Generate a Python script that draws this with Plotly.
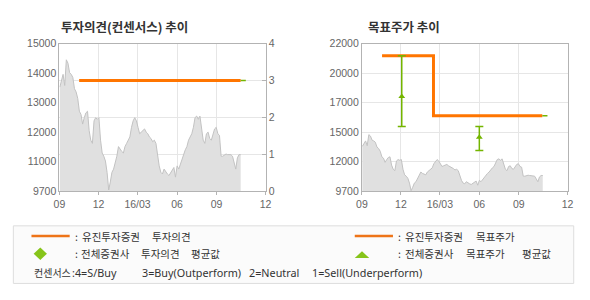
import plotly.graph_objects as go
import pandas as pd

W, H = 590, 300

# ---- data ----
price = [13441, 13700, 13900, 13500, 14423, 14300, 13961, 13900, 13788, 13383,
         13268, 13037, 12575, 12460, 12113, 12344, 12517, 12575, 11882, 11536,
         11420, 12229, 12344, 12286, 12344, 11536, 11074, 10959, 10785, 10381,
         9746, 10035, 10381, 10497, 10728, 10959, 11305, 11189, 11132, 11074,
         11305, 11420, 11536, 11651, 11998, 12229, 12344, 12229, 11998, 11767,
         11825, 11882, 11940, 11825, 11767, 11651, 11594, 11478, 11536, 11420,
         10959, 10612, 10381, 10323, 10497, 10381, 10323, 10266, 10381, 10439,
         10554, 10208, 10612, 10497, 10670, 10843, 11074, 11189, 11305, 11536,
         11651, 11767, 11998, 12344, 12402, 12286, 12402, 11998, 11536, 11420,
         11767, 11825, 11594, 11536, 11767, 11940, 11998, 11767, 11709, 10959,
         10959, 11016, 11039, 11016, 11016, 11016, 10959, 10728, 10497, 10900,
         11016, 11016]
price_dates = pd.date_range("2015-09-02", "2016-10-27", periods=len(price))

opinion_dates = ["2015-10-17", "2016-10-27"]
opinion_vals = [3, 3]
opinion_avg_dates = ["2016-10-27", "2016-11-08"]
opinion_avg_vals = [3, 3]

target_dates = ["2015-10-18", "2016-02-15", "2016-10-26"]
target_vals = [21000, 16000, 16000]
target_avg_dates = ["2016-10-26", "2016-11-07"]
target_avg_vals = [16000, 16000]

cons_dates = ["2015-12-03", "2016-06-01"]
cons_mean = [17600, 14200]
cons_high = [21000, 15100]
cons_low = [15100, 13100]

x_tickvals = ["2015-09-01", "2015-12-01", "2016-03-01", "2016-06-01", "2016-09-01", "2016-12-24"]
x_ticktext = ["09", "12", "16/03", "06", "09", "12"]
x_range = ["2015-09-01", "2016-12-24 02:00"]

y1_tickvals = [9700, 10760, 11820, 12880, 13940, 15000]
y1_ticktext = ["9700", "11000", "12000", "13000", "14000", "15000"]
y2_tickvals = [0, 1, 2, 3, 4]
y3_tickvals = [9700, 12160, 14620, 17080, 19540, 22000]
y3_ticktext = ["9700", "12000", "15000", "17000", "20000", "22000"]

ORANGE = "#ff7500"
LEG_ORANGE = "#ee7418"
GREEN = "#74b500"
LEG_GREEN = "#86c41a"
AREA_FILL = "#e0e0e0"
AREA_LINE = "#c2c2c2"
FRAME = "#b3b3b3"
GRID = "#e6e6e6"
TICKFONT = dict(family="Liberation Sans, Arial, sans-serif", size=10.5, color="#666666")
KFONT = "Noto Sans CJK KR, sans-serif"


def px(x):
    return x / W


def py(y):
    return 1 - y / H


fig = go.Figure()

# left chart
fig.add_trace(go.Scatter(x=price_dates, y=price, mode="lines", fill="tozeroy",
                         fillcolor=AREA_FILL, line=dict(color=AREA_LINE, width=1),
                         xaxis="x", yaxis="y", hoverinfo="skip"))
fig.add_trace(go.Scatter(x=opinion_dates, y=opinion_vals, mode="lines",
                         line=dict(color=ORANGE, width=3), xaxis="x", yaxis="y2"))
fig.add_trace(go.Scatter(x=opinion_avg_dates, y=opinion_avg_vals, mode="lines",
                         line=dict(color=GREEN, width=1.5), xaxis="x", yaxis="y2"))

# right chart
fig.add_trace(go.Scatter(x=price_dates, y=price, mode="lines", fill="tozeroy",
                         fillcolor=AREA_FILL, line=dict(color=AREA_LINE, width=1),
                         xaxis="x2", yaxis="y3", hoverinfo="skip"))
fig.add_trace(go.Scatter(x=target_dates, y=target_vals, mode="lines", line_shape="hv",
                         line=dict(color=ORANGE, width=3), xaxis="x2", yaxis="y3"))
fig.add_trace(go.Scatter(x=target_avg_dates, y=target_avg_vals, mode="lines",
                         line=dict(color=GREEN, width=1.5), xaxis="x2", yaxis="y3"))
fig.add_trace(go.Scatter(
    x=cons_dates, y=cons_mean, mode="markers",
    marker=dict(symbol="triangle-up", size=6, color=GREEN),
    error_y=dict(type="data", symmetric=False,
                 array=[h - m for h, m in zip(cons_high, cons_mean)],
                 arrayminus=[m - l for m, l in zip(cons_mean, cons_low)],
                 color=GREEN, thickness=1.5, width=4),
    xaxis="x2", yaxis="y3"))

ydom = [py(193), py(39.3)]
xcommon = dict(type="date", range=x_range, tickmode="array", tickvals=x_tickvals,
               ticktext=x_ticktext, showgrid=True, gridcolor=GRID, gridwidth=1,
               showline=True, linecolor=FRAME, linewidth=1, mirror=True,
               ticks="outside", ticklen=3, tickcolor=FRAME, tickfont=TICKFONT,
               zeroline=False, fixedrange=True)

fig.update_layout(
    width=W, height=H, margin=dict(l=0, r=0, t=0, b=0),
    paper_bgcolor="white", plot_bgcolor="white", showlegend=False,
    hovermode=False,
    xaxis=dict(domain=[px(54.5), px(265)], anchor="y", **xcommon),
    yaxis=dict(domain=ydom, range=[9700, 15000], tickmode="array",
               tickvals=y1_tickvals, ticktext=y1_ticktext, showgrid=False,
               showline=True, linecolor=FRAME, mirror=True, ticks="",
               tickfont=TICKFONT, zeroline=False, anchor="x"),
    yaxis2=dict(domain=ydom, range=[0, 4], overlaying="y", side="right", anchor="x",
                tickmode="array", tickvals=y2_tickvals, showgrid=True, gridcolor=GRID,
                ticks="inside", ticklen=4, tickcolor=FRAME, showline=True,
                linecolor=FRAME, tickfont=TICKFONT, zeroline=False),
    xaxis2=dict(domain=[px(363.3), px(573.3)], anchor="y3", **xcommon),
    yaxis3=dict(domain=ydom, range=[9700, 22000], tickmode="array",
                tickvals=y3_tickvals, ticktext=y3_ticktext, showgrid=True,
                gridcolor=GRID, showline=True, linecolor=FRAME, mirror=True,
                ticks="", tickfont=TICKFONT, zeroline=False, anchor="x2"),
)

# titles
fig.add_annotation(text="<b>투자의견(컨센서스) 추이</b>", x=px(54), y=py(21), xref="paper",
                   yref="paper", xanchor="left", yanchor="middle", showarrow=False,
                   font=dict(family=KFONT, size=12.5, color="#333333"))
fig.add_annotation(text="<b>목표주가 추이</b>", x=px(367), y=py(21), xref="paper",
                   yref="paper", xanchor="left", yanchor="middle", showarrow=False,
                   font=dict(family=KFONT, size=12.5, color="#333333"))

# legend box
fig.add_shape(type="rect", xref="paper", yref="paper", x0=px(7.5), x1=px(579.5),
              y0=py(289), y1=py(229), line=dict(color="#dddddd", width=1),
              fillcolor="#fbfbfb", layer="below")
fig.add_shape(type="line", xref="paper", yref="paper", x0=px(26), x1=px(65),
              y0=py(239.7), y1=py(239.7), line=dict(color=LEG_ORANGE, width=2.5))
fig.add_shape(type="line", xref="paper", yref="paper", x0=px(356), x1=px(395),
              y0=py(239.7), y1=py(239.7), line=dict(color=LEG_ORANGE, width=2.5))


def path(points):
    return "M " + " L ".join(f"{px(a):.5f},{py(b):.5f}" for a, b in points) + " Z"


fig.add_shape(type="path", xref="paper", yref="paper",
              path=path([(35, 251.5), (41.8, 258), (35, 264.5), (28.2, 258)]),
              fillcolor=LEG_GREEN, line=dict(width=0))
fig.add_shape(type="path", xref="paper", yref="paper",
              path=path([(356, 262.5), (370.8, 262.5), (363.4, 255.5)]),
              fillcolor=LEG_GREEN, line=dict(width=0))

KLEG = dict(family=KFONT, size=10.5, color="#333333")
KSMALL = dict(family=KFONT, size=10, color="#333333")
LLEG = dict(family="Noto Sans, sans-serif", size=10.8, color="#333333")
legend_texts = [
    (":", 68, 239.7, KLEG), ("유진투자증권", 76, 239.7, KLEG), ("투자의견", 147, 239.7, KLEG),
    (":", 68, 258.3, KLEG), ("전체증권사", 75, 258.3, KLEG), ("투자의견", 136, 258.3, KLEG),
    ("평균값", 187, 258.3, KLEG),
    (":", 398.5, 239.7, KLEG), ("유진투자증권", 405, 239.7, KLEG), ("목표주가", 478, 239.7, KLEG),
    (":", 398.5, 258.3, KLEG), ("전체증권사", 405, 258.3, KLEG), ("목표주가", 468, 258.3, KLEG),
    ("평균값", 525, 258.3, KLEG),
    ("컨센서스", 26.5, 277.3, KSMALL),
    (":4=S/Buy", 65.5, 277.3, LLEG),
    ("3=Buy(Outperform)", 136.5, 277.3, LLEG),
    ("2=Neutral", 246.5, 277.3, LLEG),
    ("1=Sell(Underperform)", 310, 277.3, LLEG),
]
for t, x, y, f in legend_texts:
    fig.add_annotation(text=t, x=px(x), y=py(y), xref="paper", yref="paper",
                       xanchor="left", yanchor="middle", showarrow=False, font=f)

fig.write_html("out.html")
